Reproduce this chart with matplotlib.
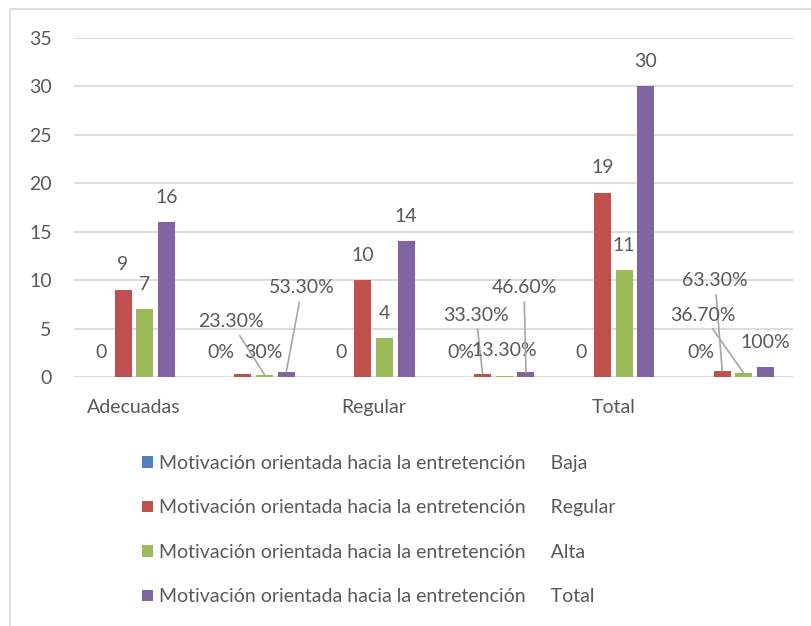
import matplotlib
matplotlib.use('Agg')
import matplotlib.pyplot as plt
from matplotlib.patches import Rectangle
import numpy as np

# datos del grafico
categories = ['Adecuadas', '', 'Regular', '', 'Total', '']
baja = [0, 0, 0, 0, 0, 0]
regular = [9, 0.30, 10, 0.333, 19, 0.633]
alta = [7, 0.233, 4, 0.133, 11, 0.367]
total = [16, 0.533, 14, 0.466, 30, 1.0]

baja_labels = ['0', '0%', '0', '0%', '0', '0%']
regular_labels = ['9', '30%', '10', '33.30%', '19', '63.30%']
alta_labels = ['7', '23.30%', '4', '13.30%', '11', '36.70%']
total_labels = ['16', '53.30%', '14', '46.60%', '30', '100%']

series_names = ['Baja', 'Regular', 'Alta', 'Total']
legend_prefix = 'Motivación orientada hacia la entretención'

colors = ['#4F81BD', '#C0504D', '#9BBB59', '#8064A2']
text_color = '#595959'
grid_color = '#D9D9D9'

plt.rcParams['font.family'] = ['Lato', 'DejaVu Sans']
fs = 14

fig = plt.figure(figsize=(8.11, 6.26), dpi=100)
ax = fig.add_axes([74 / 811, 1 - 377 / 626, (793 - 74) / 811, (377 - 38) / 626])

# marco exterior
fig.patches.append(Rectangle((10 / 811, -0.1), 1.2, 1 - 9 / 626 + 0.1,
                             transform=fig.transFigure, fill=False,
                             edgecolor=grid_color, lw=1.2))

x = np.arange(len(categories))
step = 0.181
width = 0.142
all_values = [baja, regular, alta, total]
all_labels = [baja_labels, regular_labels, alta_labels, total_labels]

bars = []
for i, (vals, col) in enumerate(zip(all_values, colors)):
    b = ax.bar(x + (i - 1.5) * step, vals, width, color=col, zorder=3,
               label=legend_prefix + '     ' + series_names[i])
    bars.append(b)

# etiquetas movidas a mano (serie, categoria) -> posicion, con linea guia
moved = {
    (1, 1): ((1.077, 2.58), False),
    (2, 1): ((0.810, 5.68), True),
    (3, 1): ((1.403, 9.19), True),
    (1, 3): ((2.855, 6.40), True),
    (3, 3): ((3.255, 9.19), True),
    (1, 5): ((4.849, 9.95), True),
    (2, 5): ((4.749, 6.40), True),
}

for i in range(4):
    for j in range(len(categories)):
        bx = x[j] + (i - 1.5) * step
        by = all_values[i][j]
        txt = all_labels[i][j]
        if (i, j) in moved:
            pos, leader = moved[(i, j)]
            if leader:
                ax.annotate(txt, xy=(bx, by), xytext=pos, ha='center', va='center',
                            fontsize=fs, color=text_color, zorder=5,
                            arrowprops=dict(arrowstyle='-', color='#A6A6A6', lw=1.2,
                                            shrinkA=2, shrinkB=0))
            else:
                ax.text(pos[0], pos[1], txt, ha='center', va='center',
                        fontsize=fs, color=text_color, zorder=5)
        else:
            ax.annotate(txt, xy=(bx, by), xytext=(0, 18), textcoords='offset points',
                        ha='center', va='center', fontsize=fs, color=text_color, zorder=5)

ax.set_xlim(-0.5, len(categories) - 0.5)
ax.set_ylim(0, 35)
ax.set_yticks(range(0, 36, 5))
ax.set_xticks(x)
ax.set_xticklabels(categories)
ax.tick_params(axis='both', length=0, labelsize=fs, labelcolor=text_color)
ax.tick_params(axis='y', pad=16)
ax.tick_params(axis='x', pad=16)
ax.yaxis.grid(True, color=grid_color, lw=1.3, zorder=0)
for s in ax.spines.values():
    s.set_visible(False)
ax.set_axisbelow(True)

fig.legend(handles=bars, loc='upper left', bbox_to_anchor=(142 / 811, 1 - 455 / 626),
           frameon=False, fontsize=fs, labelcolor=text_color,
           handlelength=0.55, handleheight=0.55, handletextpad=0.3,
           labelspacing=1.41, borderpad=0, borderaxespad=0)

fig.savefig('out.png', dpi=100)
